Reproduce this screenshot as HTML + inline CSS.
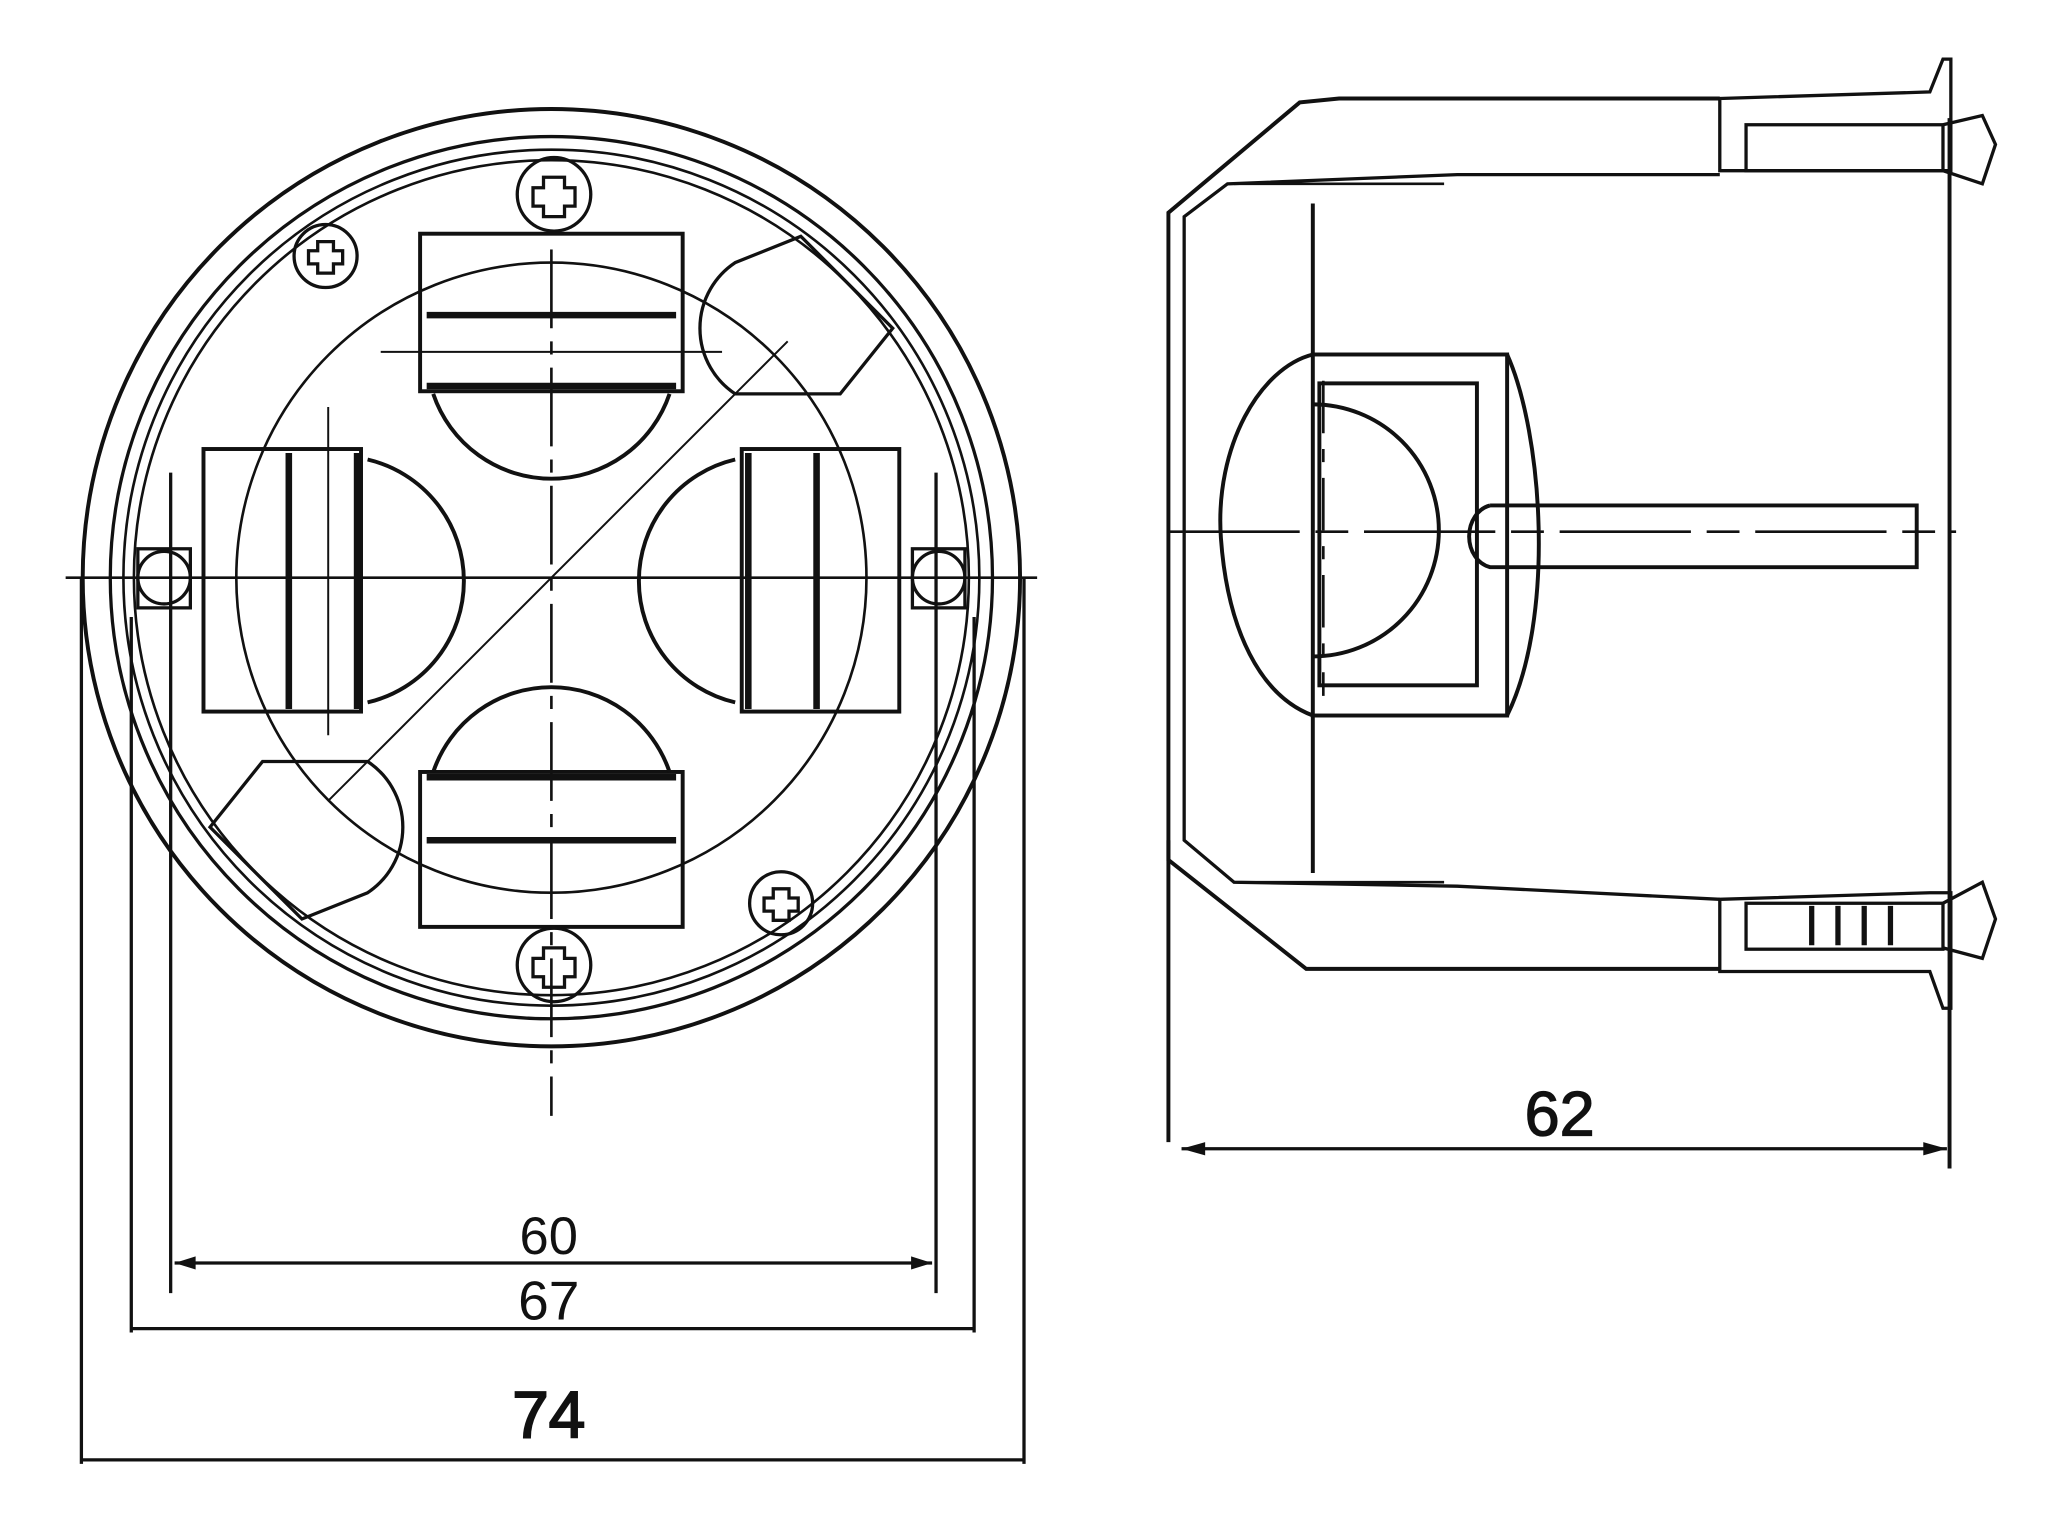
<!DOCTYPE html>
<html><head><style>html,body{margin:0;padding:0;background:#fff;}svg{display:block}</style></head>
<body>
<svg width="2048" height="1540" viewBox="0 0 1560 1173" xmlns="http://www.w3.org/2000/svg" fill="none" stroke="#111" stroke-width="3" font-family="Liberation Sans, sans-serif">
<!-- LEFT VIEW -->
<circle cx="420" cy="440" r="357"/>
<circle cx="420" cy="440" r="336" stroke-width="2.5"/>
<circle cx="420" cy="440" r="326" stroke-width="2"/>
<circle cx="420" cy="440" r="318" stroke-width="2"/>
<circle cx="420" cy="440" r="240" stroke-width="2"/>
<line x1="50" y1="440" x2="790" y2="440" stroke-width="2"/>
<line x1="420" y1="190" x2="420" y2="850" stroke-width="2" stroke-dasharray="60 10 10 10"/>
<line x1="250" y1="610" x2="600" y2="260" stroke-width="1.5"/>
<line x1="290" y1="268" x2="550" y2="268" stroke-width="1.5"/>
<line x1="250" y1="310" x2="250" y2="560" stroke-width="1.5"/>
<rect x="320" y="178" width="200" height="120"/>
<line x1="325" y1="240" x2="515" y2="240" stroke-width="5"/>
<line x1="325" y1="294" x2="515" y2="294" stroke-width="5"/>
<path d="M330 300 A95 95 0 0 0 510 300"/>
<rect x="320" y="588" width="200" height="118"/>
<line x1="325" y1="592" x2="515" y2="592" stroke-width="5"/>
<line x1="325" y1="640" x2="515" y2="640" stroke-width="5"/>
<path d="M330 588 A95 95 0 0 1 510 588"/>
<rect x="155" y="342" width="120" height="200"/>
<line x1="220" y1="345" x2="220" y2="540" stroke-width="5"/>
<line x1="272" y1="345" x2="272" y2="540" stroke-width="5"/>
<path d="M280 350 A95 95 0 0 1 280 535"/>
<rect x="565" y="342" width="120" height="200"/>
<line x1="570" y1="345" x2="570" y2="540" stroke-width="5"/>
<line x1="622" y1="345" x2="622" y2="540" stroke-width="5"/>
<path d="M560 350 A95 95 0 0 0 560 535"/>
<path d="M560 200 A60 60 0 0 0 560 300 L640 300 L680 250 L610 180 Z" stroke-width="2.5"/>
<path d="M280 680 A60 60 0 0 0 280 580 L200 580 L160 630 L230 700 Z" stroke-width="2.5"/>
<g stroke-width="2.5">
<circle cx="422" cy="148" r="28"/><path d="M414 135h16v8h8v14h-8v8h-16v-8h-8v-14h8z"/>
<circle cx="422" cy="735" r="28"/><path d="M414 722h16v8h8v14h-8v8h-16v-8h-8v-14h8z"/>
<circle cx="248" cy="195" r="24"/><path d="M242 184h12v7h7v10h-7v7h-12v-7h-7v-10h7z"/>
<circle cx="595" cy="688" r="24"/><path d="M589 677h12v7h7v10h-7v7h-12v-7h-7v-10h7z"/>
<circle cx="125" cy="440" r="20"/><rect x="105" y="418" width="40" height="45"/>
<circle cx="715" cy="440" r="20"/><rect x="695" y="418" width="40" height="45"/>
</g>
<g stroke-width="2.5">
<line x1="130" y1="360" x2="130" y2="985"/><line x1="713" y1="360" x2="713" y2="985"/>
<line x1="133" y1="962" x2="710" y2="962"/>
<line x1="100" y1="470" x2="100" y2="1015"/><line x1="742" y1="470" x2="742" y2="1015"/>
<line x1="100" y1="1012" x2="742" y2="1012"/>
<line x1="62" y1="440" x2="62" y2="1115"/><line x1="780" y1="440" x2="780" y2="1115"/>
<line x1="62" y1="1112" x2="780" y2="1112"/>
</g>
<g fill="#111" stroke="none">
<path d="M133 962l16-5v10z"/><path d="M710 962l-16-5v10z"/>
<text x="418" y="955" font-size="40" text-anchor="middle">60</text>
<text x="418" y="1005" font-size="42" text-anchor="middle">67</text>
<text x="418" y="1095" font-size="50" text-anchor="middle" stroke="#111" stroke-width="1.5">74</text>
<text x="1188" y="865" font-size="48" text-anchor="middle" stroke="#111" stroke-width="1">62</text>
<path d="M900 875l18-5v10z"/><path d="M1483 875l-18-5v10z"/>
</g>
<!-- RIGHT VIEW -->
<path d="M1310 75 L1020 75 L990 78 L890 162 L890 655 L995 738 L1310 738"/>
<path d="M1310 133 L1110 133 L935 140 L902 165 L902 640 L940 672 L1110 675 L1310 685" stroke-width="2.5"/>
<path d="M940 140 L1100 140 M940 672 L1100 672" stroke-width="2"/>
<line x1="1000" y1="155" x2="1000" y2="270"/>
<line x1="1000" y1="545" x2="1000" y2="665"/>
<rect x="1000" y="270" width="148" height="275"/>
<rect x="1005" y="292" width="120" height="230"/>
<path d="M1000 270 C960 280 925 340 930 410 C935 480 960 530 1000 545"/>
<path d="M1148 270 C1175 330 1185 470 1148 545"/>
<path d="M1000 308 A95 95 0 0 1 1000 500"/>
<path d="M1135 385 L1460 385 L1460 432 L1135 432 A20 24 0 0 1 1135 385"/>
<line x1="890" y1="405" x2="1490" y2="405" stroke-width="2" stroke-dasharray="100 12 25 12"/>
<line x1="1008" y1="290" x2="1008" y2="530" stroke-width="2" stroke-dasharray="40 12 10 12"/>
<line x1="1485" y1="90" x2="1485" y2="890"/>
<line x1="890" y1="640" x2="890" y2="870"/>
<line x1="900" y1="875" x2="1483" y2="875" stroke-width="2.5"/>
<g stroke-width="2.5">
<path d="M1310 75 L1470 70 L1480 45 L1486 45 L1486 130 L1310 130 Z"/>
<rect x="1330" y="95" width="150" height="35"/>
<path d="M1480 95 L1510 88 L1520 110 L1510 140 L1480 130"/>
<path d="M1310 685 L1470 680 L1480 680 L1486 680 L1486 768 L1480 768 L1470 740 L1310 740 Z"/>
<rect x="1330" y="688" width="150" height="35"/>
<path d="M1480 688 L1510 672 L1520 700 L1510 730 L1480 722"/>
<path d="M1380 690 v30 M1400 690 v30 M1420 690 v30 M1440 690 v30" stroke-width="4"/>
</g>
</svg>
</body></html>
